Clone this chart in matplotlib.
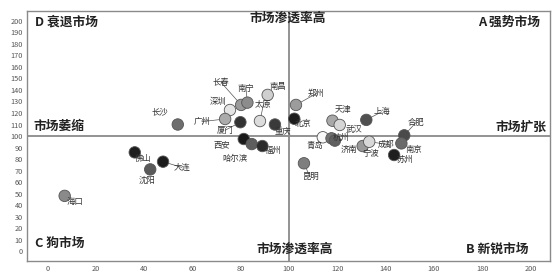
import matplotlib
matplotlib.use("Agg")
import matplotlib.pyplot as plt

plt.rcParams['font.family'] = ['Noto Sans CJK SC', 'DejaVu Sans']

# ── 数据 ──────────────────────────────────────────────────────────────
cities = ["长沙", "深圳", "长春", "南宁", "南昌", "太原", "广州", "厦门", "重庆",
          "北京", "郑州", "西安", "哈尔滨", "福州", "天津", "武汉", "上海", "合肥",
          "青岛", "杭州", "济南", "宁波", "成都", "南京", "苏州", "昆明",
          "佛山", "大连", "沈阳", "海口"]
x_vals = [54.0, 75.6, 80.2, 82.8, 91.2, 88.0, 73.6, 79.9, 94.2,
          102.2, 102.9, 81.3, 84.6, 89.0, 118.0, 121.0, 132.0, 147.7,
          114.0, 117.6, 119.0, 130.5, 133.2, 146.5, 143.5, 106.2,
          36.2, 47.9, 42.6, 7.2]
y_vals = [110.0, 122.6, 127.0, 129.0, 135.7, 113.0, 114.8, 112.0, 110.0,
          115.0, 127.0, 97.4, 93.0, 91.3, 113.3, 109.6, 114.0, 100.6,
          98.9, 98.0, 96.0, 91.3, 95.0, 93.6, 83.5, 76.3,
          85.8, 77.7, 71.0, 48.0]
fill = ["#6e6e6e", "#e4e4e4", "#9a9a9a", "#8c8c8c", "#cfcfcf", "#dcdcdc", "#ababab", "#333333", "#3a3a3a",
        "#1c1c1c", "#9c9c9c", "#1a1a1a", "#5e5e5e", "#2a2a2a", "#a8a8a8", "#d6d6d6", "#505050", "#4a4a4a",
        "#f8f8f8", "#707070", "#606060", "#9a9a9a", "#d8d8d8", "#6a6a6a", "#1e1e1e", "#7e7e7e",
        "#1e1e1e", "#1c1c1c", "#5a5a5a", "#8a8a8a"]
# 城市标签位置
lab_x = [46.7, 70.7, 72.0, 82.2, 95.6, 89.4, 64.0, 73.6, 97.7,
         105.8, 111.4, 72.2, 77.7, 93.5, 122.5, 126.9, 138.3, 152.5,
         110.7, 121.5, 125.0, 134.0, 140.0, 151.5, 148.0, 108.7,
         39.8, 55.6, 41.2, 11.5]
lab_y = [121.0, 130.0, 146.4, 141.5, 143.0, 127.0, 112.5, 105.0, 103.8,
         111.0, 137.0, 92.0, 80.6, 87.8, 123.0, 105.8, 121.0, 111.6,
         92.0, 98.5, 88.5, 85.0, 93.0, 88.4, 79.7, 64.6,
         80.6, 72.8, 61.7, 43.5]
# 带引线的城市
leaders = ["长春", "南宁", "太原", "广州", "厦门", "郑州", "上海", "合肥", "大连", "昆明", "成都"]

x_ticks = list(range(0, 201, 20))
y_ticks = list(range(0, 201, 10))

quad_labels = [
    ("D 衰退市场", -5, 199, "left"),
    ("市场渗透率高", 99.5, 202.5, "center"),
    ("A 强势市场", 204, 199, "right"),
    ("市场萎缩", -5.5, 108, "left"),
    ("市场扩张", 206.5, 108, "right"),
    ("C 狗市场", -5, 7, "left"),
    ("市场渗透率高", 102.5, 1.8, "center"),
    ("B 新锐市场", 199, 2, "right"),
]

# ── 绘图 ──────────────────────────────────────────────────────────────
fig = plt.figure(figsize=(5.55, 2.79), dpi=100)
ax = fig.add_axes([0.049, 0.064, 0.942, 0.897])

ax.axvline(100, color="#8a8a8a", linewidth=1.3, zorder=1)
ax.axhline(100, color="#8a8a8a", linewidth=1.3, zorder=1)

for i, c in enumerate(cities):
    if c in leaders:
        ax.plot([x_vals[i], lab_x[i]], [y_vals[i], lab_y[i]],
                color="#555555", linewidth=0.5, zorder=2)

ax.scatter(x_vals, y_vals, s=68, c=fill, edgecolors="#555555",
           linewidths=0.6, zorder=3)

for i, c in enumerate(cities):
    ax.text(lab_x[i], lab_y[i], c, fontsize=6.0, color="#333333",
            ha="center", va="center", zorder=4)

for txt, qx, qy, ha in quad_labels:
    ax.text(qx, qy, txt, fontsize=9.2, fontweight="bold", color="#222222",
            ha=ha, va="center", zorder=4)

ax.set_xlim(-8.3, 208)
ax.set_ylim(-8.7, 208.7)
ax.set_xticks(x_ticks)
ax.set_yticks(y_ticks)
ax.tick_params(axis="both", length=0, labelsize=5.3, labelcolor="#555555", pad=3)
for sp in ax.spines.values():
    sp.set_color("#8a8a8a")
    sp.set_linewidth(1.0)

fig.savefig("out.png", dpi=100)
